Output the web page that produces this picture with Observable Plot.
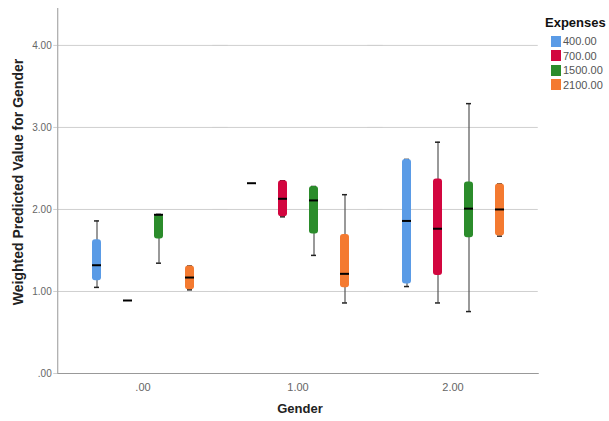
<!DOCTYPE html>
<html>
<head>
<meta charset="utf-8">
<script src="https://cdn.jsdelivr.net/npm/d3@7"></script>
<script src="https://cdn.jsdelivr.net/npm/@observablehq/plot@0.6"></script>
<style>
  html, body { margin: 0; padding: 0; background: #fff; }
  #wrap { position: relative; width: 609px; height: 421px; font-family: "Liberation Sans", Arial, sans-serif; }
  #legend { position: absolute; left: 545px; top: 15px; }
  #legend .title { font-weight: bold; font-size: 13px; color: #111; margin-bottom: 4px; }
  #legend .row { display: flex; align-items: center; height: 14.5px; font-size: 11px; color: #555; }
  #legend .sw { width: 10px; height: 11px; margin-left: 6px; margin-right: 2px; }
</style>
</head>
<body>
<div id="wrap"><div id="chart"></div><div id="legend"></div></div>
<script>
const genders = [".00", "1.00", "2.00"];
const expenses = ["400.00", "700.00", "1500.00", "2100.00"];
const colors = ["#5a9be6", "#d2063f", "#2b8c2b", "#f47a30"];
const yTicks = [0, 1, 2, 3, 4];
// box statistics, gender-major, expenses order within each gender
const mins    = [1.05, 0.89, 1.345, 1.02,   2.32, 1.91, 1.44, 0.86,   1.06, 0.86, 0.755, 1.675];
const q1s     = [1.13, 0.89, 1.64,  1.02,   2.32, 1.91, 1.70, 1.045,  1.09, 1.195, 1.655, 1.675];
const medians = [1.32, 0.89, 1.935, 1.17,   2.32, 2.13, 2.11, 1.215,  1.86, 1.765, 2.01, 2.00];
const q3s     = [1.63, 0.89, 1.94,  1.31,   2.32, 2.35, 2.28, 1.695,  2.61, 2.37, 2.335, 2.31];
const maxs    = [1.86, 0.89, 1.94,  1.31,   2.32, 2.35, 2.28, 2.18,   2.61, 2.82, 3.29, 2.31];

const data = [];
genders.forEach((g, i) => expenses.forEach((e, j) => {
  const k = i * expenses.length + j;
  data.push({gender: g, expense: e, min: mins[k], q1: q1s[k], median: medians[k], q3: q3s[k], max: maxs[k]});
}));
const boxes = data.filter(d => d.q3 > d.q1);
const whiskers = data.filter(d => d.max > d.min);

const edge = 7.75; // outer facet padding, so frame lines reach the plot edges
const chart = Plot.plot({
  width: 609,
  height: 421,
  marginLeft: 57,
  marginRight: 71,
  marginTop: 8,
  marginBottom: 48,
  style: {fontFamily: "'Liberation Sans', Arial, sans-serif", fontSize: "10px", background: "#fff"},
  fx: {domain: genders, paddingInner: 0, paddingOuter: 0.05},
  x: {domain: expenses, paddingInner: 0.71, paddingOuter: 0.855, axis: null},
  y: {domain: [0, 4.45]},
  color: {domain: expenses, range: colors},
  marks: [
    Plot.ruleY(yTicks.filter(d => d > 0), {stroke: "#cfcfcf", insetLeft: -edge, insetRight: -edge}),
    Plot.frame({anchor: "bottom", facet: "super", stroke: "#999", insetLeft: -edge, insetRight: -edge}),
    Plot.frame({anchor: "left", facet: "super", stroke: "#999", insetLeft: -edge}),
    Plot.axisY({ticks: yTicks, tickFormat: d => d === 0 ? ".00" : d.toFixed(2), tickSize: 4, tickPadding: 2, dx: -edge, stroke: "#cfcfcf", fill: "#666", label: null}),
    Plot.axisFx({anchor: "bottom", tickSize: 0, tickPadding: 10, fill: "#666", label: null, fontSize: 11}),
    Plot.text(["Weighted Predicted Value for Gender"], {facet: "super", frameAnchor: "left", textAnchor: "middle", rotate: -90, dx: -47, dy: -9, fontWeight: "bold", fontSize: 14, fill: "#222"}),
    Plot.text(["Gender"], {facet: "super", frameAnchor: "bottom", dx: 2, dy: 39, fontWeight: "bold", fontSize: 13, fill: "#222"}),
    Plot.ruleX(whiskers, {fx: "gender", x: "expense", y1: "min", y2: "max", stroke: "#555", strokeWidth: 1.2}),
    Plot.tickY(whiskers, {fx: "gender", x: "expense", y: "min", stroke: "#222", strokeWidth: 1.5, insetLeft: 2, insetRight: 2}),
    Plot.tickY(whiskers, {fx: "gender", x: "expense", y: "max", stroke: "#222", strokeWidth: 1.5, insetLeft: 2, insetRight: 2}),
    Plot.barY(boxes, {fx: "gender", x: "expense", y1: "q1", y2: "q3", fill: "expense", rx: 3}),
    Plot.tickY(data, {fx: "gender", x: "expense", y: "median", stroke: "#000", strokeWidth: 2})
  ]
});
document.getElementById("chart").appendChild(chart);

const legend = document.getElementById("legend");
const t = document.createElement("div");
t.className = "title";
t.textContent = "Expenses";
legend.appendChild(t);
expenses.forEach((e, i) => {
  const r = document.createElement("div");
  r.className = "row";
  const s = document.createElement("span");
  s.className = "sw";
  s.style.background = colors[i];
  const l = document.createElement("span");
  l.textContent = e;
  r.appendChild(s); r.appendChild(l);
  legend.appendChild(r);
});
</script>
</body>
</html>
